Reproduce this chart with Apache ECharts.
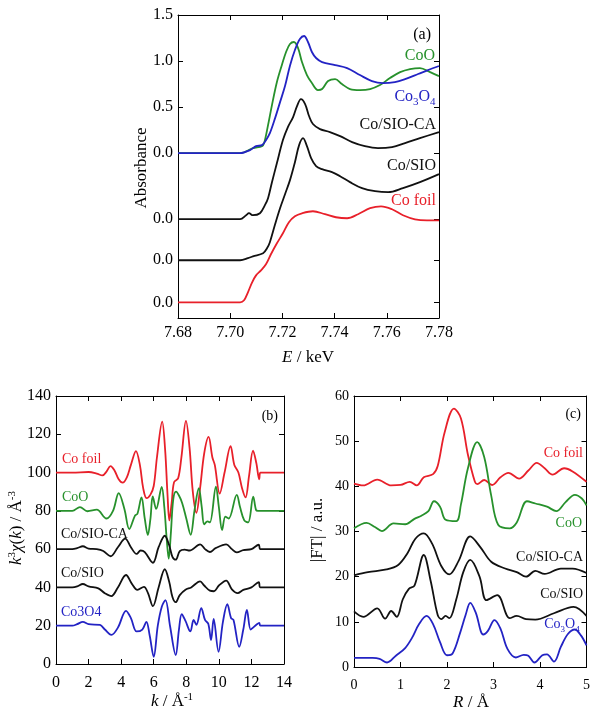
<!DOCTYPE html>
<html>
<head>
<meta charset="utf-8">
<script src="https://cdn.jsdelivr.net/npm/echarts@6/dist/echarts.min.js"></script>
<style>
html,body{margin:0;padding:0;background:#fff;}
#chart{width:593px;height:718px;}
</style>
</head>
<body>
<div id="chart"></div>
<script>
// (a) Co K-edge XANES, normalised absorbance before the vertical shift
const xanesCoO = [[7.680,0],[7.7038,0],[7.7087,0.054],[7.7122,0.076],[7.7130,0.109],[7.7145,0.304],[7.7160,0.522],[7.7179,0.772],[7.7198,0.957],[7.7214,1.098],[7.7229,1.185],[7.7244,1.207],[7.7260,1.141],[7.7275,0.989],[7.7294,0.848],[7.7313,0.761],[7.7336,0.685],[7.7352,0.696],[7.7375,0.783],[7.7402,0.804],[7.7428,0.75],[7.7459,0.696],[7.7497,0.685],[7.7536,0.696],[7.7574,0.739],[7.7612,0.815],[7.7651,0.880],[7.7689,0.913],[7.7727,0.924],[7.7766,0.880],[7.7800,0.837]];
const xanesCo3O4 = [[7.680,0],[7.7038,0],[7.7076,0.033],[7.7099,0.076],[7.7122,0.087],[7.7137,0.141],[7.7152,0.217],[7.7172,0.380],[7.7191,0.554],[7.7210,0.728],[7.7229,0.95],[7.7248,1.12],[7.7267,1.239],[7.7283,1.272],[7.7298,1.207],[7.7313,1.098],[7.7329,1.033],[7.7352,0.989],[7.7402,0.957],[7.7448,0.924],[7.7497,0.848],[7.7543,0.783],[7.7585,0.761],[7.7631,0.772],[7.7670,0.804],[7.7720,0.859],[7.7758,0.902],[7.7800,0.946]];
const xanesSioCa = [[7.680,0],[7.7038,0],[7.7061,0.043],[7.7072,0.065],[7.7087,0.043],[7.7114,0.065],[7.7133,0.152],[7.7145,0.228],[7.7160,0.402],[7.7179,0.609],[7.7202,0.859],[7.7221,1.0],[7.7241,1.109],[7.7256,1.228],[7.7271,1.304],[7.7287,1.25],[7.7302,1.12],[7.7317,1.033],[7.7344,0.978],[7.7382,0.946],[7.7421,0.902],[7.7467,0.837],[7.7516,0.793],[7.7566,0.772],[7.7620,0.783],[7.7670,0.826],[7.7727,0.880],[7.7800,0.946]];
const xanesSio = [[7.680,0],[7.7038,0],[7.7068,0.022],[7.7087,0.043],[7.7126,0.076],[7.7141,0.13],[7.7152,0.196],[7.7172,0.391],[7.7191,0.565],[7.7210,0.717],[7.7229,0.87],[7.7248,1.065],[7.7264,1.25],[7.7279,1.326],[7.7294,1.239],[7.7310,1.109],[7.7329,1.022],[7.7352,0.989],[7.7390,0.957],[7.7421,0.913],[7.7459,0.848],[7.7505,0.783],[7.7555,0.75],[7.7605,0.739],[7.7662,0.783],[7.7727,0.848],[7.7800,0.935]];
const xanesFoil = [[7.680,0],[7.7038,0],[7.7053,0.022],[7.7068,0.109],[7.7084,0.217],[7.7099,0.293],[7.7118,0.348],[7.7137,0.413],[7.7156,0.522],[7.7179,0.641],[7.7202,0.75],[7.7225,0.87],[7.7248,0.935],[7.7275,0.967],[7.7317,0.989],[7.7363,0.957],[7.7405,0.924],[7.7448,0.913],[7.7490,0.957],[7.7536,1.022],[7.7578,1.043],[7.7620,1.011],[7.7662,0.946],[7.7708,0.902],[7.7754,0.891],[7.7800,0.891]];
// vertical shift of each curve in (a): CoO, Co3O4, Co/SIO-CA, Co/SIO, Co foil
const xanesShift = [0, 0, -0.717, -1.163, -1.62];
const xanesYTicks = [1.5, 1.0, 0.5, 0.0, -0.717, -1.163, -1.62];

// (b) k3-weighted EXAFS, as plotted (offsets included)
const chiFoil = [[0,100],[1.0,100],[2.0,100.3],[2.5,99.5],[2.85,98.5],[3.1,100.5],[3.35,103.4],[3.6,101],[3.85,96.5],[4.09,94.7],[4.35,97.5],[4.6,104],[4.91,111.2],[5.15,104],[5.35,92],[5.56,86.7],[5.8,88.5],[6.0,93],[6.2,108],[6.52,126.6],[6.7,112],[6.85,88],[6.96,75],[7.1,84],[7.25,95],[7.5,97],[7.7,108],[7.98,127],[8.2,113],[8.4,90],[8.62,79],[8.85,92],[9.1,110],[9.37,118.6],[9.6,108],[9.75,104],[10.05,89],[10.35,100],[10.72,113.8],[10.95,104],[11.2,100],[11.42,92],[11.64,87],[11.85,98],[12.1,111.5],[12.3,105],[12.48,96.5],[12.55,100],[14,100]];
const chiCoO = [[0,80],[1.0,80],[1.47,82],[1.93,79.8],[2.5,80.6],[3.1,76],[3.5,80],[3.85,89.3],[4.2,81],[4.5,70.5],[4.85,77.5],[5.0,78.5],[5.25,87],[5.45,76],[5.64,67.4],[5.8,76],[5.94,87.5],[6.15,81],[6.49,92.5],[6.65,82],[6.8,65],[6.92,55],[7.05,68],[7.2,86],[7.37,90],[7.55,88],[7.75,84],[8.0,76],[8.27,67.5],[8.5,80],[8.77,91.8],[8.95,82],[9.1,73],[9.3,74.5],[9.45,74],[9.82,92.6],[10.0,82],[10.2,70],[10.4,77],[10.6,76],[11.1,88.3],[11.3,82],[11.56,75],[11.8,74],[12.11,87.4],[12.28,80.5],[12.4,80],[14,80]];
const chiSioCa = [[0,60],[1.0,60],[1.3,60.5],[1.65,61.5],[2.0,60.3],[2.5,60],[2.9,59],[3.35,56.3],[3.8,61],[4.25,65.5],[4.6,61],[4.95,57.5],[5.2,59.3],[5.45,58.5],[5.95,52.9],[6.3,61],[6.68,67],[6.95,62],[7.15,56],[7.35,54.5],[7.6,59],[7.9,59.8],[8.2,59.3],[8.85,62.5],[9.15,60],[9.45,58.5],[9.8,60.5],[10.45,62.5],[10.8,60],[11.1,58.3],[11.5,59.5],[12.0,60],[12.45,62.3],[12.55,60],[14,60]];
const chiSio = [[0,40],[1.0,40],[1.3,40.5],[1.65,41.8],[2.0,40.5],[2.6,39.5],[3.0,37],[3.4,35.5],[3.8,40],[4.3,46.5],[4.65,42],[5.0,38.7],[5.4,40.3],[5.65,37],[5.95,30.2],[6.3,40],[6.68,49.5],[6.95,43],[7.15,35],[7.35,32.3],[7.6,36],[7.95,38.8],[8.3,40],[8.85,43.2],[9.1,41],[9.45,38.3],[9.7,38],[10.0,41],[10.45,43.6],[10.8,39],[11.15,37],[11.5,38.7],[12.0,40],[12.45,42.7],[12.55,40],[14,40]];
const chiCo3O4 = [[0,20],[1.0,20],[1.3,20.8],[1.65,22],[2.0,20.8],[2.7,20.4],[3.0,18],[3.4,15.2],[3.8,19],[4.3,27.8],[4.6,24],[4.95,17],[5.3,18],[5.55,22],[5.75,15],[6.0,3.8],[6.25,20],[6.5,30],[6.72,33.4],[7.0,20],[7.35,4.7],[7.55,18],[7.72,26],[7.95,22.5],[8.25,17],[8.45,23],[8.62,20.5],[8.92,29.2],[9.15,23],[9.35,21],[9.52,12.5],[9.68,23.5],[9.98,6.4],[10.25,22],[10.52,31.2],[10.75,24],[10.9,23],[11.25,9],[11.5,18],[11.72,28.2],[11.95,18],[12.1,19],[12.3,20.5],[12.48,21.5],[12.55,20],[14,20]];

// (c) Fourier transform magnitude, as plotted (offsets included)
const ftFoil = [[0,40.6],[0.2,40.2],[0.5,41.5],[0.8,40.2],[1.0,40.3],[1.2,41],[1.35,40.2],[1.5,42],[1.7,42.7],[1.8,44.5],[1.95,52],[2.15,57.2],[2.3,55],[2.45,47],[2.6,41],[2.65,40.5],[2.8,41.4],[2.97,40.3],[3.15,42],[3.32,43],[3.55,41.7],[3.75,43.5],[3.93,45.2],[4.1,44],[4.27,42.6],[4.52,44],[4.7,43.3],[5.0,41]];
const ftCoO = [[0,30.7],[0.27,31.9],[0.45,31],[0.6,30.1],[0.85,31.8],[1.1,31.6],[1.3,32.8],[1.45,33.5],[1.6,34.5],[1.72,36.7],[1.85,35.5],[1.97,32.6],[2.2,32.3],[2.3,36],[2.45,44],[2.65,49.8],[2.8,46.5],[2.95,38],[3.1,31.5],[3.35,30.7],[3.5,32],[3.72,36.7],[3.9,36.2],[4.15,35.5],[4.35,34.5],[4.55,36.5],[4.75,38.1],[4.9,37.3],[5.0,35.8]];
const ftSioCa = [[0,20.3],[0.3,21],[0.7,21.6],[0.95,22.6],[1.15,25.2],[1.32,28.4],[1.5,29.6],[1.68,27.3],[1.88,22.3],[2.05,20.5],[2.25,23.5],[2.5,28.9],[2.72,26.5],[2.95,23.3],[3.25,21.8],[3.5,21],[3.7,20],[3.9,21.3],[4.1,20.6],[4.45,21.8],[4.7,21.8],[5.0,20.8]];
const ftSio = [[0,12.3],[0.2,11.1],[0.5,13],[0.67,10.7],[0.8,12.4],[0.92,11.1],[1.05,15],[1.18,17.3],[1.3,18],[1.5,24.8],[1.65,19],[1.8,11.5],[1.88,10.6],[1.97,11.3],[2.05,10.8],[2.2,15],[2.35,21],[2.5,23.7],[2.7,20],[2.85,14.8],[3.08,15.9],[3.35,10.8],[3.5,11.3],[3.7,10.6],[3.9,10.5],[4.3,11.9],[4.72,13.3],[5.0,11.3]];
const ftCo3O4 = [[0,2],[0.4,2],[0.55,1.8],[0.71,1],[0.9,2.5],[1.1,4.2],[1.25,6.5],[1.4,9.5],[1.56,11.3],[1.7,9.5],[1.85,5.5],[2.0,2.6],[2.12,3],[2.28,7.5],[2.4,11.5],[2.5,14.2],[2.62,12],[2.78,7.2],[2.88,8],[3.02,10.4],[3.15,8.5],[3.3,4],[3.48,2.1],[3.65,2.7],[3.75,2.5],[3.88,1.0],[4.05,2.6],[4.15,2.8],[4.3,1.2],[4.45,4.5],[4.6,7.3],[4.75,8.3],[4.88,7],[5.0,4.8]];

const RED = '#e8202a', GREEN = '#27912c', BLUE = '#2323c4', BLACK = '#111';
const FONT = 'Liberation Serif';

const chart = echarts.init(document.getElementById('chart'));

function axisBase(extra) {
  return Object.assign({
    type: 'value',
    axisLine: { show: true, onZero: false, lineStyle: { color: '#000', width: 1 } },
    axisTick: { show: true, inside: true, length: 5, lineStyle: { color: '#000' } },
    splitLine: { show: false },
    axisLabel: { color: '#000', fontFamily: FONT, fontSize: 16 }
  }, extra);
}
function mirror(a, pos) {
  return Object.assign({}, a, { position: pos, axisLabel: { show: false } });
}

const ax = axisBase({ gridIndex: 0, min: 7.68, max: 7.78, interval: 0.02, position: 'bottom',
  axisLabel: { color: '#000', fontFamily: FONT, fontSize: 16, margin: 7, formatter: v => v.toFixed(2) } });
const ay = axisBase({ gridIndex: 0, min: -1.79, max: 1.5, position: 'left',
  axisTick: { show: true, inside: true, length: 5, customValues: xanesYTicks, lineStyle: { color: '#000' } },
  axisLabel: { color: '#000', fontFamily: FONT, fontSize: 16, margin: 5, customValues: xanesYTicks,
    formatter: v => (v < -0.01 ? '0.0' : v.toFixed(1)) } });
const bx = axisBase({ gridIndex: 1, min: 0, max: 14, interval: 2, position: 'bottom',
  axisLabel: { color: '#000', fontFamily: FONT, fontSize: 16, margin: 11 } });
const by = axisBase({ gridIndex: 1, min: 0, max: 140, interval: 20, position: 'left',
  axisLabel: { color: '#000', fontFamily: FONT, fontSize: 16, margin: 5 } });
const cx = axisBase({ gridIndex: 2, min: 0, max: 5, interval: 1, position: 'bottom',
  axisLabel: { color: '#000', fontFamily: FONT, fontSize: 14, margin: 11 } });
const cy = axisBase({ gridIndex: 2, min: 0, max: 60, interval: 10, position: 'left',
  axisLabel: { color: '#000', fontFamily: FONT, fontSize: 14, margin: 5 } });

function line(xi, yi, data, color) {
  return { type: 'line', xAxisIndex: xi, yAxisIndex: yi, data: data, showSymbol: false,
    smooth: 0.35, lineStyle: { color: color, width: 1.8 }, silent: true, animation: false };
}
const shifted = (arr, i) => arr.map(p => [p[0], p[1] + xanesShift[i]]);

function label(text, x, y, color, size, align) {
  return { type: 'text', x: x, y: y, silent: true,
    style: { text: text, fill: color, fontFamily: FONT, fontSize: size, align: align || 'right', verticalAlign: 'middle' } };
}
function richLabel(text, x, y, color, size, rot, rich) {
  return { type: 'text', x: x, y: y, rotation: rot || 0, silent: true,
    style: { text: text, fill: color, fontFamily: FONT, fontSize: size, align: 'center', verticalAlign: 'middle', rich: rich } };
}
const subRich = (color, size) => ({
  n: { fill: color, fontFamily: FONT, fontSize: size, lineHeight: size, verticalAlign: 'top' },
  s: { fill: color, fontFamily: FONT, fontSize: size - 5, lineHeight: size - 5, padding: [8, 0, 0, 0], verticalAlign: 'top' }
});
const supRich = {
  n: { fill: '#000', fontFamily: FONT, fontSize: 17, lineHeight: 18, verticalAlign: 'bottom' },
  i: { fill: '#000', fontFamily: FONT, fontSize: 17, fontStyle: 'italic', lineHeight: 18, verticalAlign: 'bottom' },
  p: { fill: '#000', fontFamily: FONT, fontSize: 11, lineHeight: 11, padding: [0, 0, 10, 0], verticalAlign: 'top' }
};

chart.setOption({
  animation: false,
  backgroundColor: '#fff',
  grid: [
    { left: 178, top: 15, width: 261, height: 303 },
    { left: 56, top: 396, width: 228, height: 268 },
    { left: 354, top: 396, width: 234, height: 271 }
  ],
  xAxis: [ax, mirror(ax, 'top'), bx, mirror(bx, 'top'), cx, mirror(cx, 'top')],
  yAxis: [ay, mirror(ay, 'right'), by, mirror(by, 'right'), cy, mirror(cy, 'right')],
  series: [
    line(0, 0, shifted(xanesCoO, 0), GREEN),
    line(0, 0, shifted(xanesCo3O4, 1), BLUE),
    line(0, 0, shifted(xanesSioCa, 2), BLACK),
    line(0, 0, shifted(xanesSio, 3), BLACK),
    line(0, 0, shifted(xanesFoil, 4), RED),
    line(2, 2, chiFoil, RED),
    line(2, 2, chiCoO, GREEN),
    line(2, 2, chiSioCa, BLACK),
    line(2, 2, chiSio, BLACK),
    line(2, 2, chiCo3O4, BLUE),
    line(4, 4, ftFoil, RED),
    line(4, 4, ftCoO, GREEN),
    line(4, 4, ftSioCa, BLACK),
    line(4, 4, ftSio, BLACK),
    line(4, 4, ftCo3O4, BLUE)
  ],
  graphic: [
    // panel (a)
    label('(a)', 431, 35, '#000', 16),
    label('CoO', 435, 56, GREEN, 16),
    richLabel('{n|Co}{s|3}{n|O}{s|4}', 415, 97, BLUE, 16, 0, subRich(BLUE, 16)),
    label('Co/SIO-CA', 436, 125, BLACK, 16),
    label('Co/SIO', 436, 166, BLACK, 16),
    label('Co foil', 436, 201, RED, 16),
    richLabel('Absorbance', 142, 168, '#000', 17, Math.PI / 2),
    richLabel('{i|E}{n| / keV}', 308, 357, '#000', 17, 0, supRich),
    // panel (b)
    label('(b)', 278, 416, '#000', 14),
    label('Co foil', 62, 459, RED, 14, 'left'),
    label('CoO', 62, 497, GREEN, 14, 'left'),
    label('Co/SIO-CA', 61, 534, BLACK, 14, 'left'),
    label('Co/SIO', 61, 573, BLACK, 14, 'left'),
    label('Co3O4', 61, 612, BLUE, 14, 'left'),
    richLabel('{i|k}{p|3}{i|χ}{n|(}{i|k}{n|) / Å}{p|-3}', 16, 528, '#000', 17, Math.PI / 2, supRich),
    richLabel('{i|k}{n| / Å}{p|-1}', 172, 701, '#000', 17, 0, supRich),
    // panel (c)
    label('(c)', 581, 414, '#000', 14),
    label('Co foil', 583, 453, RED, 14),
    label('CoO', 582, 523, GREEN, 14),
    label('Co/SIO-CA', 583, 557, BLACK, 14),
    label('Co/SIO', 583, 594, BLACK, 14),
    richLabel('{n|Co}{s|3}{n|O}{s|4}', 562, 624, BLUE, 14, 0, subRich(BLUE, 14)),
    richLabel('|FT| / a.u.', 318, 530, '#000', 17, Math.PI / 2),
    richLabel('{i|R}{n| / Å}', 471, 702, '#000', 17, 0, supRich)
  ]
});
</script>
</body>
</html>
